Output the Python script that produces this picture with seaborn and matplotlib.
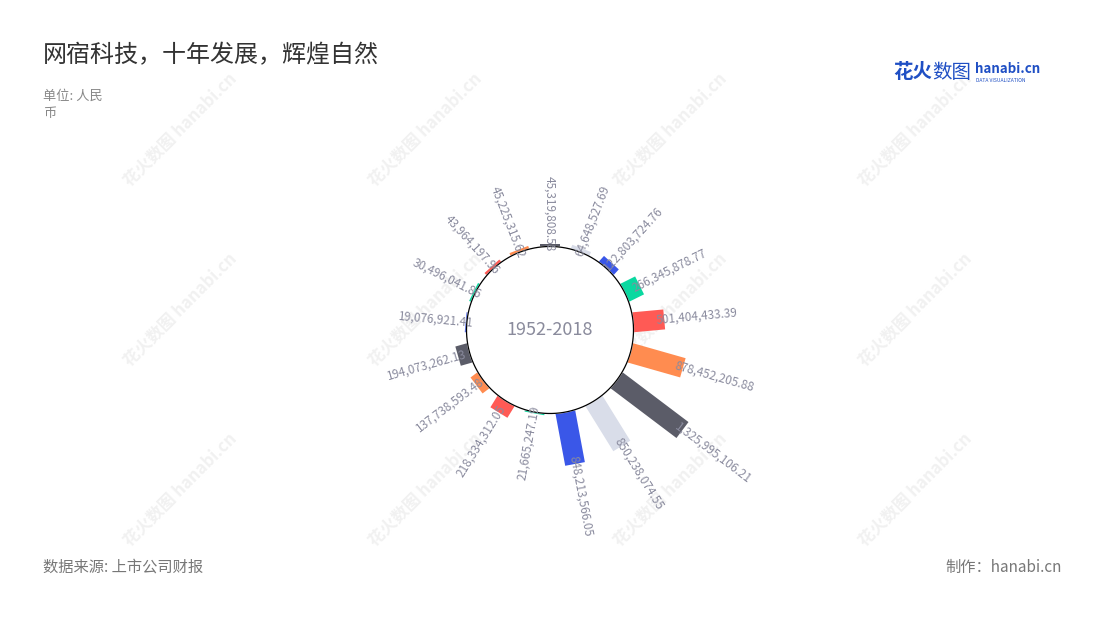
import numpy as np
import matplotlib
matplotlib.use("Agg")
import matplotlib.pyplot as plt
import seaborn as sns

# values going clockwise from the top
values = [
    45319808.58, 64648527.69, 122803724.76, 266345878.77, 501404433.39,
    878452205.88, 1325995106.21, 850238074.55, 848213566.05, 21665247.19,
    218334312.05, 137738593.48, 194073262.13, 19076921.41, 30496041.86,
    43964197.96, 45225315.62,
]
dark, light, blue, green, red, orange = "#5b5c68", "#d9dde9", "#3a57e8", "#0ad8a0", "#ff5a55", "#ff8c50"
bar_colors = [
    dark, light, blue, green, red, orange,
    dark, light, blue, green, red, orange,
    dark, blue, green, red, orange,
]
center_label = "1952-2018"
title = "网宿科技，十年发展，辉煌自然"
unit_text = "单位: 人民\n币"
source_text = "数据来源: 上市公司财报"
maker_text = "制作：hanabi.cn"

sns.set_theme(style="white")
plt.rcParams["font.family"] = ["Noto Sans CJK SC", "DejaVu Sans"]

W, H = 1100, 620
fig = plt.figure(figsize=(W / 100, H / 100), dpi=100)
fig.patch.set_facecolor("white")

# faint watermarks (behind the chart)
wm_x = [180, 425, 670, 915]
wm_y = [130, 310, 490]
for wy in wm_y:
    for wx in wm_x:
        fig.text(wx / W, 1 - wy / H, "花火数图 hanabi.cn", rotation=45,
                 ha="center", va="center", fontsize=12, fontweight="bold",
                 color="#f1f1f1", zorder=0)

# polar axes: 400px square centred on (550, 330)
cx, cy, half = 550, 330, 200
ax = fig.add_axes([(cx - half) / W, (H - cy - half) / H, 2 * half / W, 2 * half / H],
                  projection="polar")
ax.set_zorder(1)
ax.set_theta_zero_location("N")
ax.set_theta_direction(-1)
ax.set_facecolor("none")

px = max(values) / 82.5          # data units per pixel
inner = 83.5 * px
ax.set_ylim(0, half * px)

n = len(values)
theta = np.arange(n) * 2 * np.pi / n
ax.vlines(theta, inner, inner + np.array(values), colors=bar_colors,
          linewidth=20 * 72 / 100, capstyle="butt", zorder=2)

# inner circle
t = np.linspace(0, 2 * np.pi, 400)
ax.fill(t, np.full_like(t, inner), color="white", zorder=3)
ax.plot(t, np.full_like(t, inner), color="black", lw=0.9, zorder=4)
ax.text(0, 0, center_label, ha="center", va="center", fontsize=13,
        color="#8a8b9c", zorder=5)

for th, v in zip(theta, values):
    deg = np.degrees(th)
    r = inner + v - 8 * px
    if 0 < deg <= 180:
        rot, ha = 90 - deg, "left"
    else:
        rot, ha = 270 - deg, "right"
    ax.text(th, r, f"{v:,.2f}", rotation=rot, rotation_mode="anchor",
            ha=ha, va="center", fontsize=8.5, color="#8a8b9e", zorder=6)

ax.set_axis_off()

# titles and notes
fig.text(43 / W, 1 - 55 / H, title, ha="left", va="center", fontsize=17.3, color="#333333")
fig.text(43 / W, 1 - 90 / H, unit_text, ha="left", va="top", fontsize=9.5,
         color="#888888", linespacing=1.35)
fig.text(43 / W, 1 - 567 / H, source_text, ha="left", va="center", fontsize=11, color="#777777")
fig.text(1062 / W, 1 - 567 / H, maker_text, ha="right", va="center", fontsize=11, color="#777777")

# logo
fig.text(893 / W, 1 - 72 / H, "花火", ha="left", va="center", fontsize=14,
         fontweight="bold", color="#1f4fc4")
fig.text(932 / W, 1 - 72 / H, "数图", ha="left", va="center", fontsize=14,
         color="#1f4fc4")
fig.text(975 / W, 1 - 69 / H, "hanabi.cn", ha="left", va="center", fontsize=9.6,
         fontweight="bold", color="#1f4fc4")
fig.text(976 / W, 1 - 80 / H, "DATA VISUALIZATION", ha="left", va="center", fontsize=3.6,
         color="#1f4fc4")

fig.savefig("out.png", dpi=100, facecolor="white")
